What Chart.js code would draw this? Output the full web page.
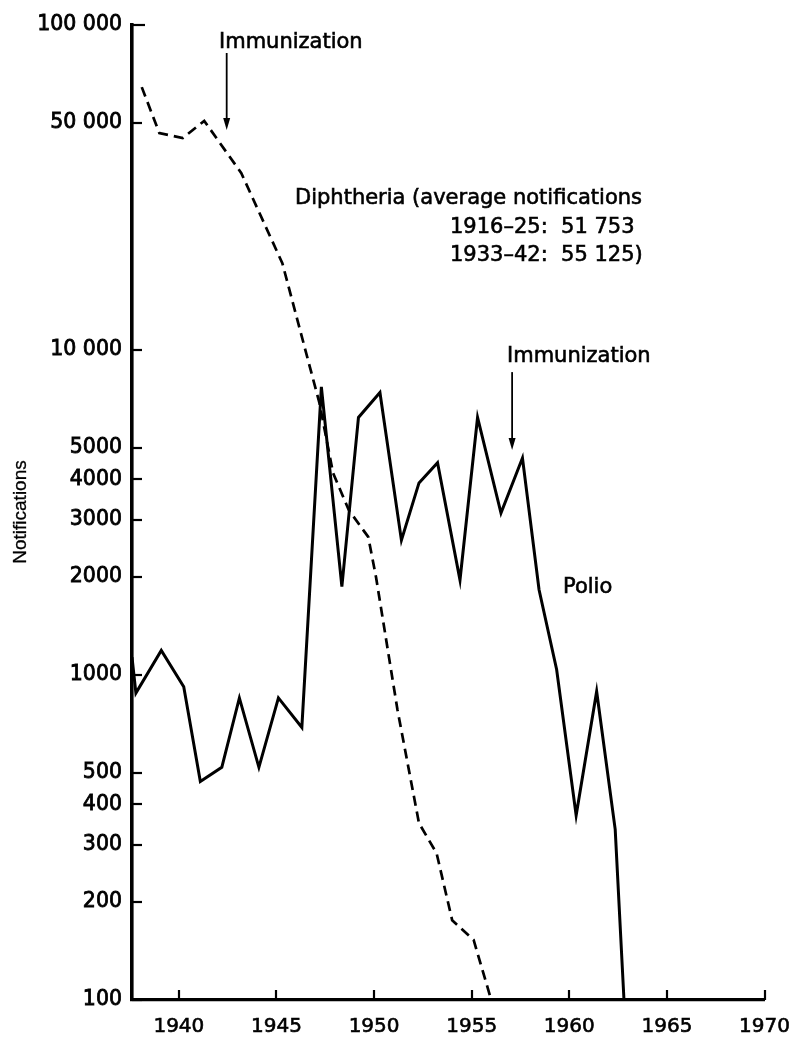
<!DOCTYPE html>
<html>
<head>
<meta charset="utf-8">
<script src="https://cdn.jsdelivr.net/npm/chart.js@4/dist/chart.umd.min.js"></script>
<style>
html,body{margin:0;padding:0;background:#fff}
canvas{display:block}
</style>
</head>
<body>
<canvas id="chart" width="805" height="1040"></canvas>
<script>
// diphtheria notifications (dashed line)
const diphYears=[1938.1,1939.0,1940.2,1941.3,1943.2,1945.3,1947.2,1947.9,1948.7,1949.7,1950.1,1951.2,1952.3,1953.2,1954.0,1955.1,1956.0];
const diphValues=[64400,46500,44900,50700,35000,18500,6870,4180,3220,2660,2000,780,350,283,176,153,100];

// polio notifications (solid line)
const polioYears=[1937.6,1937.8,1939.1,1940.25,1941.1,1942.2,1943.1,1944.1,1945.1,1946.3,1947.3,1948.35,1949.2,1950.3,1951.4,1952.3,1953.25,1954.4,1955.3,1956.5,1957.6,1958.45,1959.35,1960.35,1961.4,1962.35,1962.8];
const polioValues=[1135,880,1190,920,470,520,850,520,850,690,7700,1870,6200,7400,2600,3900,4500,1960,6200,3150,4650,1830,1040,370,890,335,100];

const yTicks=[100,200,300,400,500,1000,2000,3000,4000,5000,10000,50000,100000];
const yTickLabels=['100','200','300','400','500','1000','2000','3000','4000','5000','10 000','50 000','100 000'];
const xTicks=[1940,1945,1950,1955,1960,1965,1970];

const pts=(xs,ys)=>xs.map((v,i)=>({x:v,y:ys[i]}));

function arrow(ctx,x,y1,y2){
  ctx.beginPath();ctx.moveTo(x,y1);ctx.lineTo(x,y2-10);ctx.stroke();
  ctx.beginPath();ctx.moveTo(x-3.5,y2-12);ctx.lineTo(x+3.5,y2-12);ctx.lineTo(x,y2);ctx.closePath();ctx.fill();
}
function txt(ctx,s,x,y){ctx.fillText(s,x,y);ctx.strokeText(s,x,y);}

const marks={
  id:'marks',
  afterDraw(chart){
    const {ctx,chartArea:a,scales:{x,y}}=chart;
    ctx.save();
    ctx.strokeStyle='#000';ctx.fillStyle='#000';ctx.lineWidth=2.2;
    // inward tick marks
    yTicks.forEach(v=>{
      const py=Math.round(y.getPixelForValue(v));
      ctx.beginPath();ctx.moveTo(a.left,py);ctx.lineTo(a.left+(v===100000?13:10),py);ctx.stroke();
    });
    xTicks.forEach(v=>{
      const px=Math.round(x.getPixelForValue(v));
      ctx.beginPath();ctx.moveTo(px,a.bottom);ctx.lineTo(px,a.bottom-10);ctx.stroke();
    });
    // immunization arrows
    ctx.lineWidth=1.8;
    arrow(ctx,x.getPixelForValue(1942.45),y.getPixelForValue(82000),y.getPixelForValue(47500));
    arrow(ctx,x.getPixelForValue(1957.07),y.getPixelForValue(8550),y.getPixelForValue(4920));
    // annotations
    ctx.lineWidth=0.6;
    ctx.font='21px "DejaVu Sans"';
    ctx.textBaseline='alphabetic';ctx.textAlign='left';
    txt(ctx,'Immunization',219,48);
    txt(ctx,'Diphtheria (average notifications',295,204);
    txt(ctx,'1916\u201325:  51 753',450,233);
    txt(ctx,'1933\u201342:  55 125)',450,261);
    txt(ctx,'Immunization',507,362);
    txt(ctx,'Polio',563,593);
    // y axis title
    ctx.lineWidth=0.3;
    ctx.font='19px "Liberation Sans"';
    ctx.translate(21,512);ctx.rotate(-Math.PI/2);
    ctx.textAlign='center';ctx.textBaseline='middle';
    txt(ctx,'Notifications',0,0);
    ctx.restore();
  }
};

new Chart(document.getElementById('chart'),{
  type:'line',
  data:{datasets:[
    {label:'Diphtheria',data:pts(diphYears,diphValues),borderColor:'#000',borderWidth:2.7,borderDash:[10,6],pointRadius:0,tension:0,fill:false},
    {label:'Polio',data:pts(polioYears,polioValues),borderColor:'#000',borderWidth:3,pointRadius:0,tension:0,fill:false}
  ]},
  options:{
    responsive:false,animation:false,devicePixelRatio:1,
    layout:{padding:{top:25,right:38,bottom:0,left:0}},
    plugins:{legend:{display:false},tooltip:{enabled:false}},
    scales:{
      x:{type:'linear',min:1937.6,max:1970,
        afterBuildTicks:s=>{s.ticks=xTicks.map(v=>({value:v}));},
        afterFit:s=>{s.height=40;},
        grid:{display:false,drawTicks:false},
        border:{display:true,color:'#000',width:3.2},
        ticks:{padding:15,color:'#000',textStrokeColor:'#000',textStrokeWidth:0.6,font:{family:'DejaVu Sans',size:20},maxRotation:0,callback:v=>String(v)}},
      y:{type:'logarithmic',min:100,max:100000,
        afterBuildTicks:s=>{s.ticks=yTicks.map(v=>({value:v}));},
        afterFit:s=>{s.width=132;},
        grid:{display:false,drawTicks:false},
        border:{display:true,color:'#000',width:3.6},
        ticks:{padding:10,color:'#000',textStrokeColor:'#000',textStrokeWidth:0.8,font:{family:'DejaVu Sans',size:20.5},autoSkip:false,
          callback:v=>{const i=yTicks.indexOf(v);return i<0?'':yTickLabels[i];}}}
    }
  },
  plugins:[marks]
});
</script>
</body>
</html>
